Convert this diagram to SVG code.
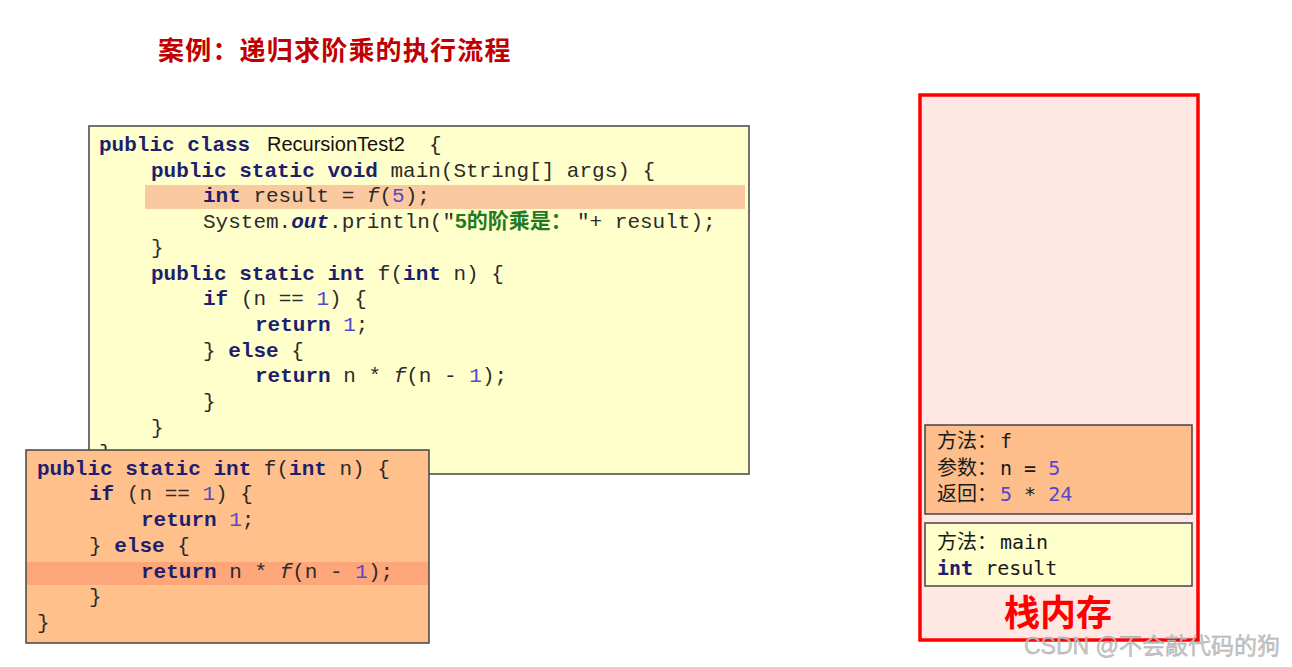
<svg xmlns="http://www.w3.org/2000/svg" width="1292" height="667" viewBox="0 0 1292 667">
<style>
.code{font-family:"Liberation Mono","Courier New",monospace;font-size:21px;fill:#2b2b2b;}
.kw{font-weight:bold;fill:#1e1e6e;}
.num{fill:#5548cc;}
.it{font-style:italic;}
.bi{font-style:italic;font-weight:bold;fill:#1e1e6e;}
.str{font-family:"Liberation Sans","Noto Sans CJK SC",sans-serif;font-weight:bold;font-size:21px;fill:#1f7a1f;}
.sans{font-family:"Liberation Sans",Arial,sans-serif;font-size:20px;fill:#111;}
.stk{font-family:"DejaVu Sans Mono","Noto Sans CJK SC",monospace;font-size:20px;fill:#1a1a1a;}
.box{stroke:#444;stroke-width:1.5;}
</style>
<defs>
<clipPath id="mainClip"><rect x="89" y="126" width="660" height="324"/></clipPath>
</defs>
<rect width="1292" height="667" fill="#ffffff"/>
<g id="title">
<text x="158" y="60" font-family="'Noto Sans CJK SC',sans-serif" font-size="26" font-weight="bold" fill="#c00000" letter-spacing="1.2">案例：递归求阶乘的执行流程</text>
</g>
<g id="main-code">
<rect class="box" x="89" y="126" width="660" height="348" fill="#ffffcc"/>
<rect x="145" y="185" width="600" height="24" fill="#fbc9a0"/>
<text class="code" xml:space="preserve" x="99" y="151"><tspan class="kw">public class</tspan><tspan class="sans" x="267">RecursionTest2</tspan><tspan x="429">{</tspan></text>
<text class="code" xml:space="preserve" x="151" y="176.7"><tspan class="kw">public static void</tspan> main(String[] args) {</text>
<text class="code" xml:space="preserve" x="203" y="202.4"><tspan class="kw">int</tspan> result = <tspan class="it">f</tspan>(<tspan class="num">5</tspan>);</text>
<text class="code" xml:space="preserve" x="203" y="228.1">System.<tspan class="bi">out</tspan>.println("<tspan class="str">5的阶乘是：</tspan><tspan x="577">"+ result);</tspan></text>
<text class="code" xml:space="preserve" x="151" y="253.8">}</text>
<text class="code" xml:space="preserve" x="151" y="279.5"><tspan class="kw">public static int</tspan> f(<tspan class="kw">int</tspan> n) {</text>
<text class="code" xml:space="preserve" x="203" y="305.2"><tspan class="kw">if</tspan> (n == <tspan class="num">1</tspan>) {</text>
<text class="code" xml:space="preserve" x="255" y="330.9"><tspan class="kw">return</tspan> <tspan class="num">1</tspan>;</text>
<text class="code" xml:space="preserve" x="203" y="356.6">} <tspan class="kw">else</tspan> {</text>
<text class="code" xml:space="preserve" x="255" y="382.3"><tspan class="kw">return</tspan> n * <tspan class="it">f</tspan>(n - <tspan class="num">1</tspan>);</text>
<text class="code" xml:space="preserve" x="203" y="408">}</text>
<text class="code" xml:space="preserve" x="151" y="433.7">}</text>
<text class="code" xml:space="preserve" x="99" y="459.4" clip-path="url(#mainClip)">}</text>
</g>
<g id="f-code">
<rect class="box" x="26" y="450" width="403" height="193" fill="#ffc08c"/>
<rect x="27" y="562" width="401" height="23" fill="#fca679"/>
<text class="code" xml:space="preserve" x="37" y="474.5"><tspan class="kw">public static int</tspan> f(<tspan class="kw">int</tspan> n) {</text>
<text class="code" xml:space="preserve" x="89" y="500.3"><tspan class="kw">if</tspan> (n == <tspan class="num">1</tspan>) {</text>
<text class="code" xml:space="preserve" x="141" y="526"><tspan class="kw">return</tspan> <tspan class="num">1</tspan>;</text>
<text class="code" xml:space="preserve" x="89" y="551.8">} <tspan class="kw">else</tspan> {</text>
<text class="code" xml:space="preserve" x="141" y="577.6"><tspan class="kw">return</tspan> n * <tspan class="it">f</tspan>(n - <tspan class="num">1</tspan>);</text>
<text class="code" xml:space="preserve" x="89" y="603.4">}</text>
<text class="code" xml:space="preserve" x="37" y="629">}</text>
</g>
<g id="stack">
<rect x="920" y="95" width="278" height="545" fill="#ffe8e4" stroke="#ff0000" stroke-width="3.5"/>
<text x="1058" y="626" text-anchor="middle" font-family="'Noto Sans CJK SC',sans-serif" font-size="36" font-weight="bold" fill="#ff0000">栈内存</text>
</g>
<g id="frame-f">
<rect class="box" x="925" y="425" width="267" height="89" fill="#fdbe8b"/>
<text class="stk" xml:space="preserve" x="937" y="448">方法：<tspan x="1000">f</tspan></text>
<text class="stk" xml:space="preserve" x="937" y="475">参数：<tspan x="1000">n = <tspan class="num">5</tspan></tspan></text>
<text class="stk" xml:space="preserve" x="937" y="501">返回：<tspan x="1000" class="num">5</tspan> * <tspan class="num">24</tspan></text>
</g>
<g id="frame-main">
<rect class="box" x="925" y="523" width="267" height="63" fill="#ffffcc"/>
<text class="stk" xml:space="preserve" x="937" y="549">方法：<tspan x="1000">main</tspan></text>
<text class="stk" xml:space="preserve" x="937" y="575"><tspan class="kw">int</tspan> result</text>
</g>
<g id="connectors"/>
<g id="watermark">
<text x="1024" y="654" font-family="'Liberation Sans','Noto Sans CJK SC',sans-serif" font-size="23" fill="#c4c4c4" stroke="#9a9a9a" stroke-width="0.4" opacity="0.9">CSDN @不会敲代码的狗</text>
</g>
</svg>
